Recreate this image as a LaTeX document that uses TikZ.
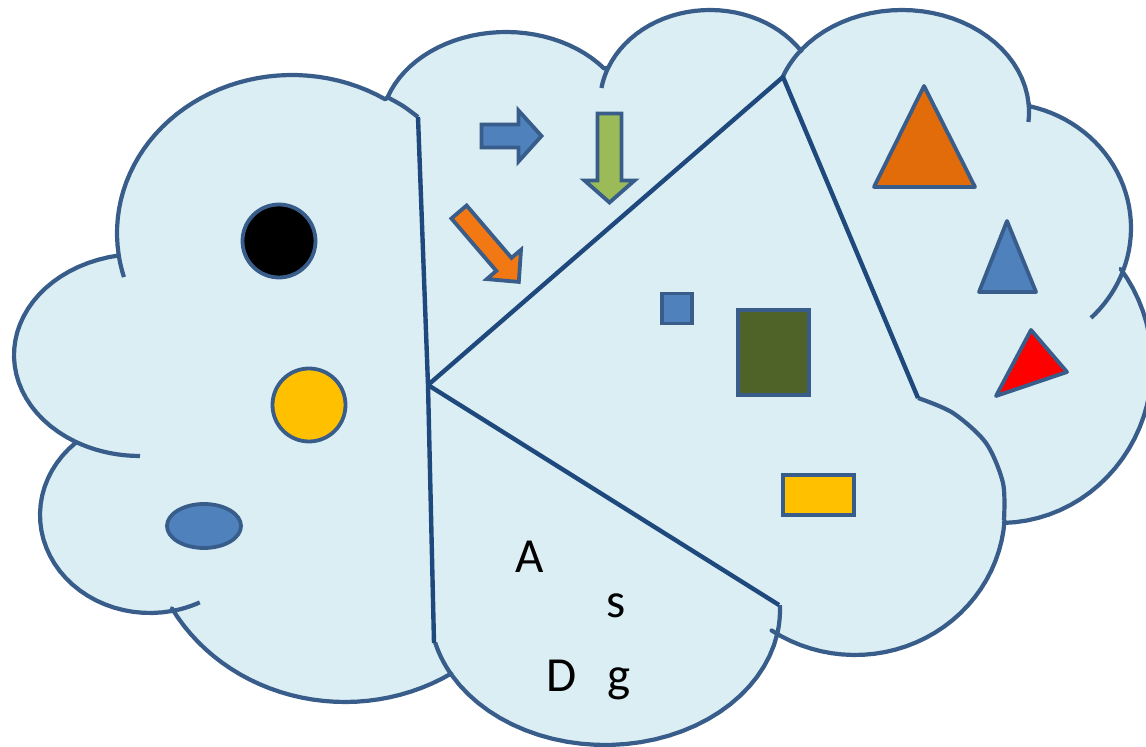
\documentclass[tikz,border=0pt]{standalone}
\usepackage{fontspec}
\setmainfont{Carlito}
\usetikzlibrary{shapes.geometric}

\begin{document}
\begin{tikzpicture}[x=0.5pt, y=-0.5pt,
    outline/.style={draw=cloudline, line width=2.1pt, line join=round},
    divider/.style={draw=dividerline, line width=2.2pt, line join=round},
    item/.style={draw=cloudline, line width=1.9pt, inner sep=0pt},
    letter/.style={anchor=base, inner sep=0pt, font=\fontsize{24.5}{29}\selectfont}]
    % Define colors
    \definecolor{cloudfill}{RGB}{219, 238, 244}
    \definecolor{cloudline}{RGB}{56, 93, 138}
    \definecolor{dividerline}{RGB}{31, 73, 125}
    \definecolor{itemblue}{RGB}{79, 129, 189}
    \definecolor{sunyellow}{RGB}{255, 192, 0}
    \definecolor{olivegreen}{RGB}{79, 98, 40}
    \definecolor{leafgreen}{RGB}{155, 187, 89}
    \definecolor{pumpkin}{RGB}{227, 108, 10}
    \definecolor{tangerine}{RGB}{242, 120, 20}

    \useasboundingbox (0,0) rectangle (1146,747);
    \clip (0,0) rectangle (1146,747);

    % Cloud body: one elliptic arc per lobe, clockwise from the left
    \path[outline, fill=cloudfill]
        plot[domain=172:302.2, samples=40, variable=\t] ({292+175*cos(\t)}, {233+158*sin(\t)})
        -- plot[domain=198.7:321.8, samples=30, variable=\t] ({506+125*cos(\t)}, {128+96*sin(\t)})
        -- plot[domain=202.5:326, samples=30, variable=\t] ({710+110*cos(\t)}, {103+93*sin(\t)})
        -- plot[domain=217.9:355, samples=30, variable=\t] ({902+127*cos(\t)}, {112+102*sin(\t)})
        -- plot[domain=283:380.3, samples=30, variable=\t] ({1000+131*cos(\t)}, {228+125*sin(\t)})
        -- plot[domain=322.5:448.5, samples=30, variable=\t] ({1000+152*cos(\t)}, {365+158*sin(\t)})
        -- plot[domain=4:123.8, samples=30, variable=\t] ({855+150*cos(\t)}, {510+145*sin(\t)})
        -- plot[domain=10.2:151.2, samples=30, variable=\t] ({605+175*cos(\t)}, {610+135*sin(\t)})
        -- plot[domain=57.6:151, samples=30, variable=\t] ({345+198*cos(\t)}, {520+182*sin(\t)})
        -- plot[domain=78.1:227.5, samples=30, variable=\t] ({150+110*cos(\t)}, {515+98*sin(\t)})
        -- plot[domain=120.9:260, samples=30, variable=\t] ({140+126*cos(\t)}, {355+101*sin(\t)})
        -- cycle;

    % Inner hooks of the lobes
    \draw[outline] plot[domain=163.8:172, samples=8, variable=\t] ({292+175*cos(\t)}, {233+158*sin(\t)});
    \draw[outline] plot[domain=90:120.9, samples=10, variable=\t] ({140+126*cos(\t)}, {355+101*sin(\t)});
    \draw[outline] plot[domain=63.1:78.1, samples=8, variable=\t] ({150+110*cos(\t)}, {515+98*sin(\t)});
    \draw[outline] plot[domain=151.2:166, samples=8, variable=\t] ({605+175*cos(\t)}, {610+135*sin(\t)});
    \draw[outline] plot[domain=-2.1:10.2, samples=8, variable=\t] ({605+175*cos(\t)}, {610+135*sin(\t)});
    \draw[outline] plot[domain=189.3:202.5, samples=8, variable=\t] ({710+110*cos(\t)}, {103+93*sin(\t)});
    \draw[outline] plot[domain=200.1:217.9, samples=8, variable=\t] ({902+127*cos(\t)}, {112+102*sin(\t)});
    \draw[outline] plot[domain=355:365.6, samples=8, variable=\t] ({902+127*cos(\t)}, {112+102*sin(\t)});
    \draw[outline] plot[domain=380.3:406, samples=10, variable=\t] ({1000+131*cos(\t)}, {228+125*sin(\t)});
    \draw[outline] plot[smooth] coordinates {(387,97) (403,106) (418,117)};
    \draw[outline] plot[smooth] coordinates {(1004,520) (1003,483) (986,443) (953,413) (918,398)};

    % Dividing lines
    \coordinate (topcut) at (418,117);
    \coordinate (hub) at (428,385);
    \coordinate (bottomcut) at (434,643);
    \coordinate (peak) at (783,77);
    \coordinate (rightcut) at (918,398);
    \coordinate (lowcut) at (779,605);
    \draw[divider] (topcut) -- (hub) -- (bottomcut);
    \draw[divider] (hub) -- (peak) -- (rightcut);
    \draw[divider] (hub) -- (lowcut);

    % Left part: round shapes
    \node[item, circle, fill=black, minimum size=36.5pt] (blackdot) at (279,241) {};
    \node[item, circle, fill=sunyellow, minimum size=36.5pt] (yellowdot) at (309,405) {};
    \node[item, ellipse, fill=itemblue, minimum width=37pt, minimum height=22pt] (blueoval) at (204,526) {};

    % Top part: arrows
    \draw[item, fill=itemblue, line join=miter] (481.5,124.5) -- (518.5,124.5) -- (518.5,110.5) -- (541.5,136) -- (518.5,161.5) -- (518.5,147.5) -- (481.5,147.5) -- cycle;
    \draw[item, fill=leafgreen, line join=miter] (597.5,113.5) -- (621.5,113.5) -- (621.5,180.5) -- (634.5,180.5) -- (609.5,202.5) -- (584.5,180.5) -- (597.5,180.5) -- cycle;
    \draw[item, fill=tangerine, line join=miter] (466.6,205.5) -- (511.5,257.9) -- (521,249.8) -- (518.8,281.9) -- (486.8,279.1) -- (496.3,270.9) -- (451.4,218.5) -- cycle;

    % Middle part: rectangles
    \node[item, rectangle, fill=itemblue, minimum size=15pt] (smallsquare) at (677,308.5) {};
    \node[item, rectangle, fill=olivegreen, minimum width=35.5pt, minimum height=42.5pt] (greenblock) at (773.5,352.5) {};
    \node[item, rectangle, fill=sunyellow, minimum width=35.5pt, minimum height=20pt] (yellowbar) at (818.5,495) {};

    % Right part: triangles
    \draw[item, fill=pumpkin, line join=round] (924,86) -- (874,187) -- (975,187) -- cycle;
    \draw[item, fill=itemblue, line join=round] (1007,221) -- (979,292) -- (1036,292) -- cycle;
    \draw[item, fill=red, line join=round] (1031,330) -- (1067,372) -- (996,396) -- cycle;

    % Bottom part: letters
    \node[letter] (letterA) at (530,573) {A};
    \node[letter] (letters) at (616,618) {s};
    \node[letter] (letterD) at (562,692) {D};
    \node[letter] (letterg) at (619,692) {g};
\end{tikzpicture}
\end{document}
